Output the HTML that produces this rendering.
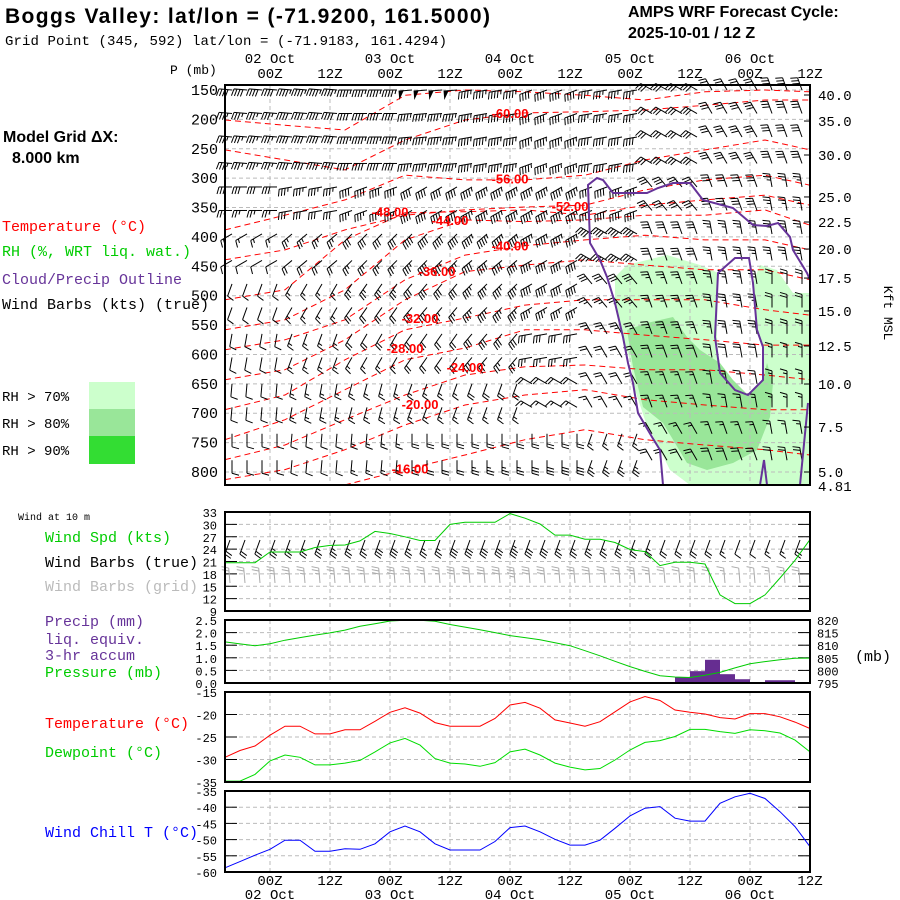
<!DOCTYPE html>
<html><head><meta charset="utf-8"><title>Boggs Valley AMPS WRF meteogram</title>
<style>
html,body{margin:0;padding:0;background:#fff;}
svg{display:block;}
.m{font-family:"Liberation Mono",monospace;}
.s{font-family:"Liberation Sans",sans-serif;}
</style></head>
<body>
<svg id="chart" width="900" height="900" viewBox="0 0 900 900" xmlns="http://www.w3.org/2000/svg">
<rect x="0" y="0" width="900" height="900" fill="#fff"/>
<g>
<text x="5" y="23" class="s" font-weight="bold" font-size="21" textLength="485">Boggs Valley:  lat/lon = (-71.9200, 161.5000)</text>
<text x="5" y="45" class="m" font-size="14" textLength="442">Grid Point (345, 592) lat/lon = (-71.9183, 161.4294)</text>
<text x="628" y="17" class="s" font-weight="bold" font-size="16">AMPS WRF Forecast Cycle:</text>
<text x="628" y="38" class="s" font-weight="bold" font-size="16">2025-10-01 / 12  Z</text>
</g>
<g>
<text x="3" y="142" class="s" font-weight="bold" font-size="16">Model Grid ΔX:</text>
<text x="12" y="163" class="s" font-weight="bold" font-size="16">8.000 km</text>
<text x="2" y="231" class="m" font-size="15" fill="#ff0000">Temperature (°C)</text>
<text x="2" y="256" class="m" font-size="15" fill="#00cc00">RH (%, WRT liq. wat.)</text>
<text x="2" y="284" class="m" font-size="15" fill="#663399">Cloud/Precip Outline</text>
<text x="2" y="309" class="m" font-size="15" fill="#000">Wind Barbs (kts) (true)</text>
<rect x="89" y="382" width="46" height="27" fill="#ccffcc"/>
<rect x="89" y="409" width="46" height="27" fill="#99e699"/>
<rect x="89" y="436" width="46" height="28" fill="#33dd33"/>
<text x="2" y="401" class="m" font-size="14">RH &gt; 70%</text>
<text x="2" y="428" class="m" font-size="14">RH &gt; 80%</text>
<text x="2" y="455" class="m" font-size="14">RH &gt; 90%</text>
<text x="18" y="520" class="m" font-size="10">Wind at 10 m</text>
<text x="45" y="542" class="m" font-size="15" fill="#00cc00">Wind Spd (kts)</text>
<text x="45" y="567" class="m" font-size="15">Wind Barbs (true)</text>
<text x="45" y="591" class="m" font-size="15" fill="#bbbbbb">Wind Barbs (grid)</text>
<text x="45" y="626" class="m" font-size="15" fill="#663399">Precip (mm)</text>
<text x="45" y="644" class="m" font-size="15" fill="#663399">liq. equiv.</text>
<text x="45" y="660" class="m" font-size="15" fill="#663399">3-hr accum</text>
<text x="45" y="677" class="m" font-size="15" fill="#00cc00">Pressure (mb)</text>
<text x="45" y="728" class="m" font-size="15" fill="#ff0000">Temperature (°C)</text>
<text x="45" y="757" class="m" font-size="15" fill="#00cc00">Dewpoint (°C)</text>
<text x="45" y="837" class="m" font-size="15" fill="#0000ff">Wind Chill T (°C)</text>
</g>
<g id="rh">
<path d="M615,277 L627,265 L667,255 L700,265 L718,273 L717,337 L720,373 L735,390 L748,395 L763,380 L763,347 L757,330 L753,283 L760,265 L777,270 L793,293 L810,293 L810,485 L690,485 L670,470 L660,450 L645,420 L635,390 L630,360 L620,330 L615,300 Z" fill="#ccffcc"/>
<path d="M627,330 L647,323 L673,317 L687,337 L700,350 L720,363 L733,380 L748,395 L763,380 L767,363 L773,383 L770,417 L757,450 L733,463 L707,470 L687,463 L663,423 L643,407 L633,367 Z" fill="#99e699"/>
</g>
<g id="grid"></g>
<g id="iso"></g>
<g id="barbs"></g>
<g fill="none" stroke="#663399" stroke-width="2">
<path d="M663,485 L660,450 L652,437 L638,413 L633,383 L628,363 L623,337 L615,303 L607,277 L600,260 L590,243 L588,185 L597,178 L603,180 L613,193 L647,193 L658,188 L673,183 L690,183 L703,200 L733,208 L753,225 L767,226 L778,223 L790,237 L793,250 L807,273 L810,280"/>
<path d="M718,273 L735,258 L749,258 L753,283 L757,330 L763,347 L763,380 L748,395 L735,390 L720,373 L715,337 Z"/>
<path d="M760,485 L764,460 L767,485"/>
<path d="M800,485 L808,403"/>
</g>
<g id="isolabels"></g>
<g id="axes"></g>
<g id="bottom"></g>
</svg>
<script>
// ---------- data ----------
const hours3 = [0,3,6,9,12,15,18,21,24,27,30,33,36,39,42,45,48,51,54,57,60,63,66,69,72,75,78,81,84,87,90,93,96,99,102,105,108,111,114,117];
const windSpd10 = [20.7,20.7,20.7,23.3,23.3,23.3,24.4,24.9,25,26,28.3,27.8,27,26.1,26.1,30,30.5,30.5,30.5,32.6,31.5,30.1,27.4,27.4,26.4,26.4,25.6,23.9,23.4,20,20.8,20.8,20.4,12.9,10.8,10.8,12.9,17,21.3,26.3];
const sfcPres = [811.3,810.5,809.8,810.6,812,813,814,814.9,816,817.5,818.5,819.6,819.9,819.9,819.5,818.2,817.2,816.1,815,813.8,813,812.2,811,809.8,807.8,805.8,803.6,801.5,799.6,797.9,797.4,797.2,798.1,799.2,801,802.6,803.5,804.2,804.8,804.9];
const temp2m = [-29.5,-28,-27,-24.6,-22.6,-22.6,-24.3,-24.3,-23.4,-23.4,-21.5,-19.5,-18.5,-19.7,-21.8,-22.6,-22.6,-22.6,-20.9,-17.9,-17.3,-18.6,-21.2,-21.9,-22.6,-21.6,-19.4,-17.2,-16.0,-16.9,-19,-19.5,-19.9,-20.7,-21,-19.8,-19.8,-20.5,-21.7,-23.1];
const dewpt2m = [-34.8,-34.8,-33.3,-30.3,-29,-29.5,-31.2,-31.2,-30.8,-30.2,-28.3,-26.3,-25.3,-26.8,-29.8,-30.8,-31,-31.5,-30.7,-28.3,-27.7,-29,-30.8,-31.7,-32.3,-32,-30.1,-27.9,-26.2,-25.8,-24.9,-23.3,-23.3,-23.8,-24.2,-23.4,-23.6,-24.1,-25.7,-28.3];
const windChill = [-58.7,-56.8,-54.8,-53,-50.2,-50.2,-53.6,-53.6,-52.8,-53,-51.3,-47.6,-45.8,-47.6,-51.3,-53.2,-53.2,-53.2,-50.6,-46.3,-45.8,-47.6,-49.9,-51.7,-51.7,-50.2,-46.5,-42.7,-40.3,-39.8,-43.4,-44.3,-44.3,-38.8,-36.8,-35.7,-37.3,-41.4,-46,-52.2];
const precipStart = [87,90,93,96,99,102,108,111];
const precipMM = [0.04,0.22,0.47,0.92,0.35,0.15,0.11,0.11];
const windDir10True = 200;
const windDir10Grid = 355;

const pTicks = [150,200,250,300,350,400,450,500,550,600,650,700,750,800];
const kftLabels = ["40.0","35.0","30.0","25.0","22.5","20.0","17.5","15.0","12.5","10.0","7.5","5.0","4.81"];
const kftPres = [158.5,202.8,260.6,332,374.6,420.6,470,526,585.6,650.3,723.5,800,823.8];
const timeTickHours = [9,21,33,45,57,69,81,93,105,117];
const timeTickLabels = ["00Z","12Z","00Z","12Z","00Z","12Z","00Z","12Z","00Z","12Z"];
const dateHours = [9,33,57,81,105];
const dateLabels = ["02 Oct","03 Oct","04 Oct","05 Oct","06 Oct"];

// upper-air winds: 16 model rows x 10 twelve-hour blocks
const barbRowPres = [150,190,230,275,315,355,395,440,480,520,565,605,650,690,735,780];
const barbSpd = [
[40,45,45,50,45,40,35,30,30,30],
[35,40,40,45,45,40,35,30,30,30],
[35,40,45,45,45,45,40,30,30,30],
[35,40,40,45,45,45,40,30,30,30],
[30,35,40,40,45,45,40,30,30,25],
[25,30,35,40,45,45,40,30,30,25],
[15,25,30,40,45,45,40,30,25,25],
[10,20,25,35,40,40,35,30,25,25],
[10,15,25,30,35,40,30,25,25,20],
[10,15,20,25,35,35,25,25,25,20],
[10,15,20,20,30,30,25,25,25,20],
[10,15,15,20,25,25,20,20,20,15],
[10,15,15,15,20,20,20,15,15,15],
[10,15,15,15,15,15,15,15,15,15],
[10,10,15,20,20,20,15,15,15,15],
[10,10,15,20,25,30,25,20,20,20]];
const barbDir = [
[275,275,270,265,260,250,260,300,330,340],
[275,275,270,265,260,250,260,300,330,340],
[275,275,270,265,260,250,260,300,330,340],
[275,275,270,265,260,250,260,300,330,340],
[270,260,250,240,240,240,250,320,340,350],
[270,260,250,240,240,240,250,320,340,350],
[240,230,225,225,230,240,300,340,350,350],
[240,230,225,225,230,240,300,340,350,350],
[200,210,215,220,225,240,320,340,350,0],
[200,210,215,220,225,240,320,340,350,0],
[190,200,210,215,220,260,330,340,350,0],
[190,200,210,215,220,260,330,340,350,0],
[185,190,195,200,200,300,330,340,350,0],
[185,190,195,200,200,300,330,340,350,0],
[180,185,185,180,180,180,200,330,340,350],
[180,185,185,180,180,180,200,330,340,350]];

// isotherms (temperature °C) with pressure (mb) at anchor hours
const isoHours = [0,12,24,36,48,60,72,84,96,108,117];
const isoTemps = [-64,-60,-56,-52,-48,-44,-40,-36,-32,-28,-24,-20,-16];
const isoPres = [
[201,210,218,159,150,153,159,167,153,150,153],
[252,269,286,235,201,189,187,184,176,167,167],
[388,363,337,295,303,303,295,269,252,235,252],
[439,422,388,363,354,349,346,320,303,295,312],
[507,490,405,359,357,354,363,346,337,329,346],
[558,541,490,405,371,374,371,363,363,354,380],
[592,575,541,473,431,415,405,397,405,405,422],
[643,626,575,507,459,448,439,448,456,456,473],
[694,669,609,558,538,516,507,507,507,524,533],
[745,711,660,609,589,558,558,567,575,584,584],
[779,754,711,669,635,621,618,626,626,635,643],
[813,796,762,720,686,669,660,677,686,694,694],
[830,830,822,796,771,745,728,745,754,762,771]];
const isoLabelTemps = [-60,-56,-52,-48,-44,-40,-36,-32,-28,-24,-20,-16];
const isoLabelHours = [57,57,69,33,45,57,42.4,39,36,48,39,37];
const isoLabelPres = [189,301,347,357,371,415,458,538,589,621,684,794];

// ---------- scales ----------
const X0 = 225, X1 = 810;
const xH = h => X0 + 5*h;
const yP = p => 90 + (p-150)*(382/650);
const yW = v => 512 + (33-v)*(99/24);
const yPr = mb => 620 + (820-mb)*(63/25);
const yPc = mm => 683 - mm*(63/2.5);
const yT = t => 692 + (-15-t)*(90/20);
const yC = t => 791 + (-35-t)*(81/25);

const NS = "http://www.w3.org/2000/svg";
function mk(parent, tag, attrs, name){
  const el = document.createElementNS(NS, tag);
  for (const k in attrs) el.setAttribute(k, attrs[k]);
  
  
  parent.appendChild(el);
  return el;
}
function txt(parent, x, y, s, size, anchor, fill, name, cls){
  const t = mk(parent, 'text', {x:x, y:y, 'font-size':size, 'text-anchor':anchor||'start', fill:fill||'#000', class:cls||'m'}, name);
  t.textContent = s;
  return t;
}

// ---------- main panel grid ----------
const grid = document.getElementById('grid');
pTicks.forEach(p => {
  mk(grid,'line',{x1:X0,x2:X1,y1:yP(p),y2:yP(p),stroke:'#bbb','stroke-dasharray':'4,3','stroke-width':1},'pressure-gridline');
});
timeTickHours.forEach(h => {
  if (h < 117) mk(grid,'line',{x1:xH(h),x2:xH(h),y1:85,y2:485,stroke:'#bbb','stroke-dasharray':'4,3','stroke-width':1},'time-gridline');
});

// ---------- isotherms ----------
const iso = document.getElementById('iso');
const clip = mk(document.getElementById('chart'),'clipPath',{id:'mainclip'},'main-clip');
mk(clip,'rect',{x:X0,y:85,width:X1-X0,height:400},'main-clip-rect');
iso.setAttribute('clip-path','url(#mainclip)');
isoTemps.forEach((t,i) => {
  const pts = isoHours.map((h,j) => xH(h).toFixed(1)+','+yP(isoPres[i][j]).toFixed(1)).join(' ');
  mk(iso,'polyline',{points:pts,fill:'none',stroke:'#ff0000','stroke-width':1,'stroke-dasharray':'6,4'},'isotherm-'+Math.abs(t));
});
const isoL = document.getElementById('isolabels');
isoLabelTemps.forEach((t,i) => {
  txt(isoL, xH(isoLabelHours[i]), yP(isoLabelPres[i])+5, t.toFixed(2), 13, 'middle', '#ff0000', 'isotherm-label', 's').setAttribute('font-weight','bold');
});

// ---------- barb drawing ----------
function barb(parent, x, y, dir, spd, color, len, name){
  const d = dir*Math.PI/180;
  const sx = Math.sin(d), sy = -Math.cos(d);
  const fx = sy, fy = -sx;
  const g = mk(parent,'g',{stroke:color,fill:color,'stroke-width':1},name);
  const tx = x + sx*len, ty = y + sy*len;
  mk(g,'line',{x1:x,y1:y,x2:tx,y2:ty},'barb-staff');
  let v = Math.round(spd/5)*5;
  let pos = 0;
  while (v >= 50){
    const ax = tx - sx*pos, ay = ty - sy*pos;
    const bx = ax - sx*4, by = ay - sy*4;
    mk(g,'polygon',{points:`${ax},${ay} ${ax+fx*7},${ay+fy*7} ${bx},${by}`},'barb-pennant');
    pos += 5; v -= 50;
  }
  while (v >= 10){
    const ax = tx - sx*pos, ay = ty - sy*pos;
    mk(g,'line',{x1:ax,y1:ay,x2:ax+fx*7+sx*2,y2:ay+fy*7+sy*2},'barb-feather');
    pos += 3; v -= 10;
  }
  if (v >= 5){
    if (pos === 0) pos = 3;
    const ax = tx - sx*pos, ay = ty - sy*pos;
    mk(g,'line',{x1:ax,y1:ay,x2:ax+fx*4+sx*1,y2:ay+fy*4+sy*1},'barb-half-feather');
  }
}

const barbs = document.getElementById('barbs');
barbRowPres.forEach((p,r) => {
  for (let c = 0; c < 39; c++){
    const x = 232 + 15*c;
    const h = (x - X0)/5;
    const b = Math.min(9, Math.floor(h/12));
    barb(barbs, x, yP(p), barbDir[r][b], barbSpd[r][b], '#000', 13, 'upper-barb');
  }
});

// ---------- main axes ----------
const axes = document.getElementById('axes');
mk(axes,'rect',{x:X0,y:85,width:X1-X0,height:400,fill:'none',stroke:'#000','stroke-width':2},'main-panel-border');
txt(axes,170,74,'P (mb)',13,'start','#000','pressure-axis-title');
pTicks.forEach(p => txt(axes,218,yP(p)+5,String(p),15,'end','#000','pressure-tick-label'));
kftLabels.forEach((s,i) => {
  txt(axes,818,yP(kftPres[i])+5,s,14,'start','#000','kft-tick-label');
  if (i < kftLabels.length-1) mk(axes,'line',{x1:X1-6,x2:X1,y1:yP(kftPres[i]),y2:yP(kftPres[i]),stroke:'#000'},'kft-tick');
});
const kt = txt(axes,0,0,'Kft MSL',13,'middle','#000','kft-axis-title');
kt.setAttribute('transform','translate(884,313) rotate(90)');
timeTickHours.forEach((h,i) => txt(axes,xH(h),78,timeTickLabels[i],14,'middle','#000','top-time-label'));
dateHours.forEach((h,i) => txt(axes,xH(h),63,dateLabels[i],14,'middle','#000','top-date-label'));
timeTickHours.forEach((h,i) => txt(axes,xH(h),885,timeTickLabels[i],14,'middle','#000','bottom-time-label'));
dateHours.forEach((h,i) => txt(axes,xH(h),899,dateLabels[i],14,'middle','#000','bottom-date-label'));

// ---------- bottom panels ----------
const bot = document.getElementById('bottom');
function panel(top, bottom, ticks, yf, leftLabels, name){
  const g = mk(bot,'g',{},name);
  timeTickHours.forEach(h => { if (h<117) mk(g,'line',{x1:xH(h),x2:xH(h),y1:top,y2:bottom,stroke:'#bbb','stroke-dasharray':'4,3'},'panel-time-gridline'); });
  ticks.forEach((t,i) => {
    const y = yf(t);
    if (y > top+1 && y < bottom-1){
      mk(g,'line',{x1:X0,x2:X1,y1:y,y2:y,stroke:'#bbb','stroke-dasharray':'4,3'},'panel-value-gridline');
      mk(g,'line',{x1:X0,x2:X0+12,y1:y,y2:y,stroke:'#000'},'panel-left-tick');
      mk(g,'line',{x1:X1-12,x2:X1,y1:y,y2:y,stroke:'#000'},'panel-right-tick');
    }
    if (leftLabels) txt(g,217,y+5,leftLabels[i],12,'end','#000','panel-tick-label');
  });
  return g;
}
function line(g, vals, yf, color, name){
  const pts = hours3.map((h,i) => xH(h).toFixed(1)+','+yf(vals[i]).toFixed(1)).join(' ');
  mk(g,'polyline',{points:pts,fill:'none',stroke:color,'stroke-width':1},name);
}

// wind panel
const windTicks = [33,30,27,24,21,18,15,12,9];
const gw = panel(512,611,windTicks,yW,windTicks.map(String),'wind-panel');
hours3.forEach((h,i) => {
  const x = xH(h) + 5;
  if (x < X1) {
    barb(gw, x, 583, windDir10Grid, windSpd10[i], '#aaaaaa', 15, 'grid-wind-barb');
    barb(gw, x, 540, windDir10True, windSpd10[i], '#000', 15, 'true-wind-barb');
  }
});
line(gw, windSpd10, yW, '#00cc00', 'wind-speed-line');
mk(gw,'rect',{x:X0,y:512,width:X1-X0,height:99,fill:'none',stroke:'#000','stroke-width':2},'wind-panel-border');

// precip / pressure panel
const precTicks = [2.5,2.0,1.5,1.0,0.5,0.0];
const gp = panel(620,683,precTicks,yPc,precTicks.map(v=>v.toFixed(1)),'precip-panel');
const presTicks = [820,815,810,805,800,795];
presTicks.forEach(m => txt(gp,817,yPr(m)+5,String(m),12,'start','#000','pressure-right-label'));
txt(gp,855,661,'(mb)',15,'start','#000','pressure-unit-label');
precipStart.forEach((h,i) => {
  mk(gp,'rect',{x:xH(h),y:yPc(precipMM[i]),width:15,height:683-yPc(precipMM[i]),fill:'#662d91'},'precip-bar');
});
line(gp, sfcPres, yPr, '#00cc00', 'pressure-line');
mk(gp,'rect',{x:X0,y:620,width:X1-X0,height:63,fill:'none',stroke:'#000','stroke-width':2},'precip-panel-border');

// temperature panel
const tTicks = [-15,-20,-25,-30,-35];
const gt = panel(692,782,tTicks,yT,tTicks.map(String),'temperature-panel');
line(gt, temp2m, yT, '#ff0000', 'temperature-line');
line(gt, dewpt2m, yT, '#00dd00', 'dewpoint-line');
mk(gt,'rect',{x:X0,y:692,width:X1-X0,height:90,fill:'none',stroke:'#000','stroke-width':2},'temperature-panel-border');

// wind chill panel
const cTicks = [-35,-40,-45,-50,-55,-60];
const gc = panel(791,872,cTicks,yC,cTicks.map(String),'wind-chill-panel');
line(gc, windChill, yC, '#0000ff', 'wind-chill-line');
mk(gc,'rect',{x:X0,y:791,width:X1-X0,height:81,fill:'none',stroke:'#000','stroke-width':2},'wind-chill-panel-border');
</script>
</body></html>
